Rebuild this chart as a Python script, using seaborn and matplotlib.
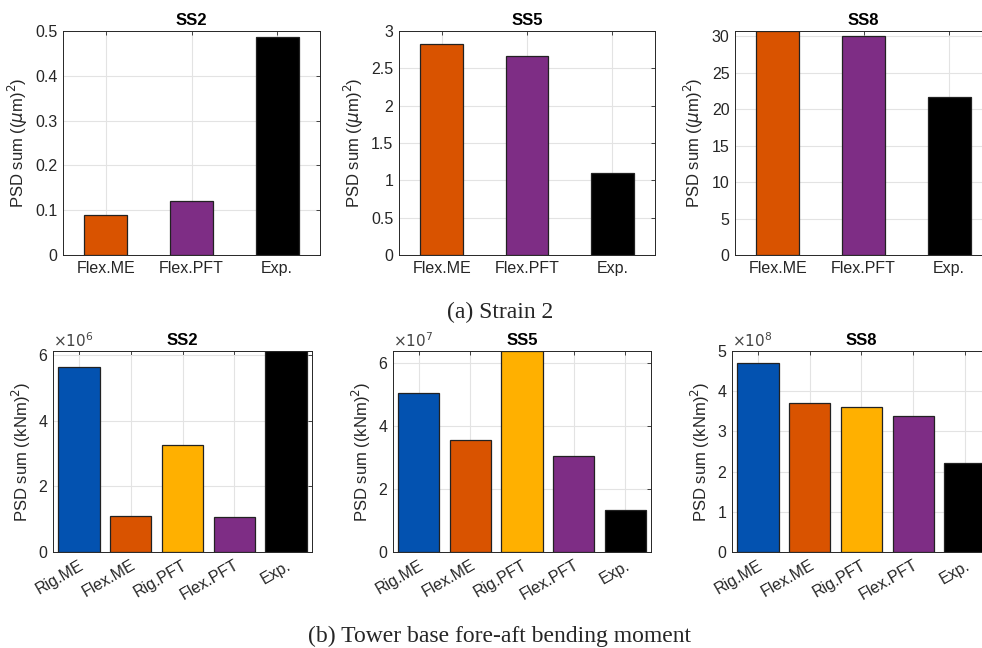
import matplotlib
matplotlib.use("Agg")
import matplotlib.pyplot as plt
import seaborn as sns
import pandas as pd

# strain 2 PSD sums, (um)^2
strain_cats = ["Flex.ME", "Flex.PFT", "Exp."]
strain_ss2 = [0.089, 0.121, 0.486]
strain_ss5 = [2.83, 2.66, 1.094]
strain_ss8 = [30.7, 30.05, 21.6]

# tower base fore-aft bending moment PSD sums, (kNm)^2
moment_cats = ["Rig.ME", "Flex.ME", "Rig.PFT", "Flex.PFT", "Exp."]
moment_ss2 = [5.63e6, 1.10e6, 3.26e6, 1.07e6, 6.13e6]
moment_ss5 = [5.03e7, 3.55e7, 6.37e7, 3.05e7, 1.34e7]
moment_ss8 = [4.69e8, 3.71e8, 3.62e8, 3.38e8, 2.22e8]

colors = {
    "Rig.ME": "#0352B0",
    "Flex.ME": "#D95300",
    "Rig.PFT": "#FFB000",
    "Flex.PFT": "#7E2D85",
    "Exp.": "#000000",
}

sns.set_style("white")
plt.rcParams["font.family"] = ["Liberation Sans", "DejaVu Sans"]
plt.rcParams["mathtext.fontset"] = "dejavusans"

TXT = "#262626"

fig = plt.figure(figsize=(9.82, 6.48), dpi=100)


def style_axes(ax, n, ylim, yticks, ticklabels=None):
    ax.set_xlim(-0.5, n - 0.5)
    ax.set_ylim(*ylim)
    ax.set_yticks(yticks)
    if ticklabels is not None:
        ax.set_yticklabels(ticklabels)
    ax.set_axisbelow(True)
    ax.grid(True, color="#e3e3e3", linewidth=0.8)
    for sp in ax.spines.values():
        sp.set_visible(True)
        sp.set_color(TXT)
        sp.set_linewidth(0.7)
    ax.tick_params(direction="in", length=3, width=0.6, top=True, right=True,
                   labelsize=11.5, colors=TXT, pad=4)
    ax.set_xlabel("")


def draw(rect, cats, vals, width, title, ylabel, ylim, yticks, ticklabels=None,
         mult=None, rotate=False):
    ax = fig.add_axes(rect)
    df = pd.DataFrame({"cat": cats, "val": vals})
    sns.barplot(data=df, x="cat", y="val", hue="cat", palette=colors,
                width=width, dodge=False, legend=False, ax=ax,
                edgecolor="#222222", linewidth=0.9, saturation=1)
    style_axes(ax, len(cats), ylim, yticks, ticklabels)
    ax.set_title(title, fontweight="bold", fontsize=12, color="black", pad=4)
    ax.set_ylabel(ylabel, fontsize=12, color=TXT, labelpad=4)
    if rotate:
        plt.setp(ax.get_xticklabels(), rotation=30, ha="right",
                 rotation_mode="anchor")
    if mult is not None:
        ax.text(0.0, 1.005, r"$\times10^{%d}$" % mult, transform=ax.transAxes,
                ha="left", va="bottom", fontsize=11, color="#444444")
    return ax


um_label = r"PSD sum (($\mu$m)$^2$)"
kn_label = r"PSD sum ((kNm)$^2$)"

top_b, top_h = 0.6065, 0.3457
draw([0.0642, top_b, 0.2617, top_h], strain_cats, strain_ss2, 0.5, "SS2", um_label,
     (0, 0.5), [0, 0.1, 0.2, 0.3, 0.4, 0.5], ["0", "0.1", "0.2", "0.3", "0.4", "0.5"])
draw([0.4063, top_b, 0.2607, top_h], strain_cats, strain_ss5, 0.5, "SS5", um_label,
     (0, 3), [0, 0.5, 1, 1.5, 2, 2.5, 3], ["0", "0.5", "1", "1.5", "2", "2.5", "3"])
draw([0.7485, top_b, 0.2617, top_h], strain_cats, strain_ss8, 0.5, "SS8", um_label,
     (0, max(strain_ss8)), [0, 5, 10, 15, 20, 25, 30])

bot_b, bot_h = 0.1481, 0.3102
draw([0.054, bot_b, 0.2637, bot_h], moment_cats, [v / 1e6 for v in moment_ss2], 0.8,
     "SS2", kn_label, (0, max(moment_ss2) / 1e6), [0, 2, 4, 6], mult=6, rotate=True)
draw([0.4002, bot_b, 0.2627, bot_h], moment_cats, [v / 1e7 for v in moment_ss5], 0.8,
     "SS5", kn_label, (0, max(moment_ss5) / 1e7), [0, 2, 4, 6], mult=7, rotate=True)
draw([0.7454, bot_b, 0.2637, bot_h], moment_cats, [v / 1e8 for v in moment_ss8], 0.8,
     "SS8", kn_label, (0, 5), [0, 1, 2, 3, 4, 5], mult=8, rotate=True)

fig.text(0.509, 0.518, "(a) Strain 2", ha="center", va="center",
         fontsize=17, family="Liberation Serif")
fig.text(0.509, 0.018, "(b) Tower base fore-aft bending moment", ha="center",
         va="center", fontsize=17, family="Liberation Serif")

fig.savefig("out.png", dpi=100)
